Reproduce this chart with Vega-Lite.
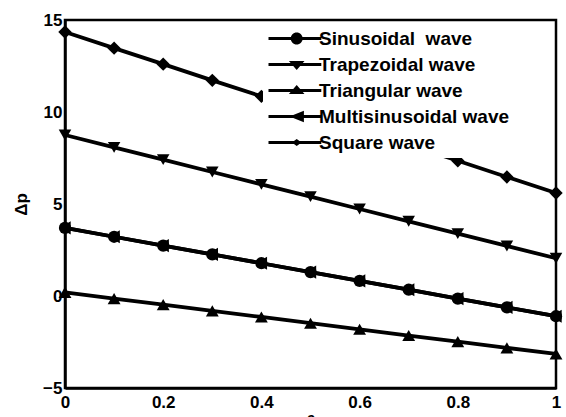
{
  "$schema": "https://vega.github.io/schema/vega-lite/v6.json",
  "width": 491,
  "height": 368,
  "autosize": {"type": "none"},
  "padding": {"left": 65, "top": 20, "right": 10, "bottom": 40},
  "background": "white",
  "config": {
    "font": "Liberation Sans",
    "view": {"stroke": "black", "strokeWidth": 2.5},
    "axis": {
      "labelFont": "Liberation Sans",
      "labelFontWeight": "bold",
      "labelFontSize": 17,
      "labelColor": "black",
      "titleFont": "Liberation Sans",
      "titleFontWeight": "bold",
      "titleFontSize": 17,
      "titleColor": "black",
      "domainColor": "black",
      "domainWidth": 2.5,
      "ticks": false,
      "tickSize": 0,
      "grid": false
    }
  },
  "data": {
    "values": [
      {"x": 0, "y": 3.7, "series": "Sinusoidal\u00a0 wave"},
      {"x": 0.1, "y": 3.22, "series": "Sinusoidal\u00a0 wave"},
      {"x": 0.2, "y": 2.74, "series": "Sinusoidal\u00a0 wave"},
      {"x": 0.3, "y": 2.26, "series": "Sinusoidal\u00a0 wave"},
      {"x": 0.4, "y": 1.78, "series": "Sinusoidal\u00a0 wave"},
      {"x": 0.5, "y": 1.3, "series": "Sinusoidal\u00a0 wave"},
      {"x": 0.6, "y": 0.82, "series": "Sinusoidal\u00a0 wave"},
      {"x": 0.7, "y": 0.34, "series": "Sinusoidal\u00a0 wave"},
      {"x": 0.8, "y": -0.14, "series": "Sinusoidal\u00a0 wave"},
      {"x": 0.9, "y": -0.62, "series": "Sinusoidal\u00a0 wave"},
      {"x": 1, "y": -1.1, "series": "Sinusoidal\u00a0 wave"},
      {"x": 0, "y": 8.75, "series": "Trapezoidal wave"},
      {"x": 0.1, "y": 8.08, "series": "Trapezoidal wave"},
      {"x": 0.2, "y": 7.41, "series": "Trapezoidal wave"},
      {"x": 0.3, "y": 6.74, "series": "Trapezoidal wave"},
      {"x": 0.4, "y": 6.07, "series": "Trapezoidal wave"},
      {"x": 0.5, "y": 5.4, "series": "Trapezoidal wave"},
      {"x": 0.6, "y": 4.73, "series": "Trapezoidal wave"},
      {"x": 0.7, "y": 4.06, "series": "Trapezoidal wave"},
      {"x": 0.8, "y": 3.39, "series": "Trapezoidal wave"},
      {"x": 0.9, "y": 2.72, "series": "Trapezoidal wave"},
      {"x": 1, "y": 2.05, "series": "Trapezoidal wave"},
      {"x": 0, "y": 0.2, "series": "Triangular wave"},
      {"x": 0.1, "y": -0.14, "series": "Triangular wave"},
      {"x": 0.2, "y": -0.47, "series": "Triangular wave"},
      {"x": 0.3, "y": -0.81, "series": "Triangular wave"},
      {"x": 0.4, "y": -1.14, "series": "Triangular wave"},
      {"x": 0.5, "y": -1.48, "series": "Triangular wave"},
      {"x": 0.6, "y": -1.81, "series": "Triangular wave"},
      {"x": 0.7, "y": -2.15, "series": "Triangular wave"},
      {"x": 0.8, "y": -2.48, "series": "Triangular wave"},
      {"x": 0.9, "y": -2.82, "series": "Triangular wave"},
      {"x": 1, "y": -3.15, "series": "Triangular wave"},
      {"x": 0, "y": 3.7, "series": "\u00a0Multisinusoidal wave"},
      {"x": 0.1, "y": 3.22, "series": "\u00a0Multisinusoidal wave"},
      {"x": 0.2, "y": 2.74, "series": "\u00a0Multisinusoidal wave"},
      {"x": 0.3, "y": 2.26, "series": "\u00a0Multisinusoidal wave"},
      {"x": 0.4, "y": 1.78, "series": "\u00a0Multisinusoidal wave"},
      {"x": 0.5, "y": 1.3, "series": "\u00a0Multisinusoidal wave"},
      {"x": 0.6, "y": 0.82, "series": "\u00a0Multisinusoidal wave"},
      {"x": 0.7, "y": 0.34, "series": "\u00a0Multisinusoidal wave"},
      {"x": 0.8, "y": -0.14, "series": "\u00a0Multisinusoidal wave"},
      {"x": 0.9, "y": -0.62, "series": "\u00a0Multisinusoidal wave"},
      {"x": 1, "y": -1.1, "series": "\u00a0Multisinusoidal wave"},
      {"x": 0, "y": 14.35, "series": "Square wave"},
      {"x": 0.1, "y": 13.47, "series": "Square wave"},
      {"x": 0.2, "y": 12.6, "series": "Square wave"},
      {"x": 0.3, "y": 11.72, "series": "Square wave"},
      {"x": 0.4, "y": 10.85, "series": "Square wave"},
      {"x": 0.5, "y": 9.97, "series": "Square wave"},
      {"x": 0.6, "y": 9.1, "series": "Square wave"},
      {"x": 0.7, "y": 8.22, "series": "Square wave"},
      {"x": 0.8, "y": 7.35, "series": "Square wave"},
      {"x": 0.9, "y": 6.47, "series": "Square wave"},
      {"x": 1, "y": 5.6, "series": "Square wave"}
    ]
  },
  "encoding": {
    "x": {
      "field": "x", "type": "quantitative",
      "scale": {"domain": [0, 1], "nice": false, "zero": false},
      "axis": {"values": [0, 0.2, 0.4, 0.6, 0.8, 1], "format": "~g", "labelPadding": 6, "title": "θ", "titlePadding": 3, "labelFlush": false}
    },
    "y": {
      "field": "y", "type": "quantitative",
      "scale": {"domain": [-5, 15], "nice": false, "zero": false},
      "axis": {"values": [-5, 0, 5, 10, 15], "labelPadding": 3, "title": "Δp", "titlePadding": 12}
    }
  },
  "layer": [
    {
      "mark": {"type": "line", "color": "black", "strokeWidth": 3.8},
      "encoding": {"detail": {"field": "series"}}
    },
    {
      "mark": {"type": "point", "filled": true, "color": "black", "opacity": 1},
      "encoding": {
        "shape": {
          "field": "series", "type": "nominal",
          "scale": {
            "domain": ["Sinusoidal\u00a0 wave", "Trapezoidal wave", "Triangular wave", "\u00a0Multisinusoidal wave", "Square wave"],
            "range": ["circle", "triangle-down", "triangle-up", "triangle-left", "diamond"]
          },
          "legend": null
        },
        "size": {
          "field": "series", "type": "nominal",
          "scale": {
            "domain": ["Sinusoidal\u00a0 wave", "Trapezoidal wave", "Triangular wave", "\u00a0Multisinusoidal wave", "Square wave"],
            "range": [150, 180, 180, 180, 70]
          },
          "legend": null
        }
      }
    },
    {
      "mark": {"type": "point", "filled": true, "color": "black", "opacity": 0},
      "encoding": {
        "shape": {
          "field": "series", "type": "nominal",
          "scale": {
            "domain": ["Sinusoidal\u00a0 wave", "Trapezoidal wave", "Triangular wave", "\u00a0Multisinusoidal wave", "Square wave"],
            "range": [
              "M-1.5,-0.27H7.3V0.27H-1.5ZM2.2,0A1,1 0 1,1 4.2,0A1,1 0 1,1 2.2,0Z",
              "M-1.5,-0.27H7.3V0.27H-1.5ZM1.9,-0.6L4.5,-0.6L3.2,0.9Z",
              "M-1.5,-0.27H7.3V0.27H-1.5ZM1.9,0.6L3.2,-0.9L4.5,0.6Z",
              "M-1.5,-0.27H7.3V0.27H-1.5ZM2,0L4.4,-0.95L4.4,0.95Z",
              "M-1.5,-0.27H7.3V0.27H-1.5ZM2.4,0L3.2,-0.6L4,0L3.2,0.6Z"
            ]
          },
          "legend": {
            "title": null,
            "orient": "none",
            "legendX": 198,
            "legendY": 4,
            "padding": 5,
            "fillColor": "white",
            "symbolSize": 144,
            "symbolFillColor": "black",
            "symbolStrokeWidth": 0,
            "symbolOpacity": 1,
            "labelFont": "Liberation Sans",
            "labelFontWeight": "bold",
            "labelFontSize": 19,
            "labelColor": "black",
            "labelOffset": 32,
            "labelLimit": 400,
            "rowPadding": 6
          }
        }
      }
    }
  ],
  "resolve": {"scale": {"shape": "independent"}, "legend": {"shape": "independent"}}
}
